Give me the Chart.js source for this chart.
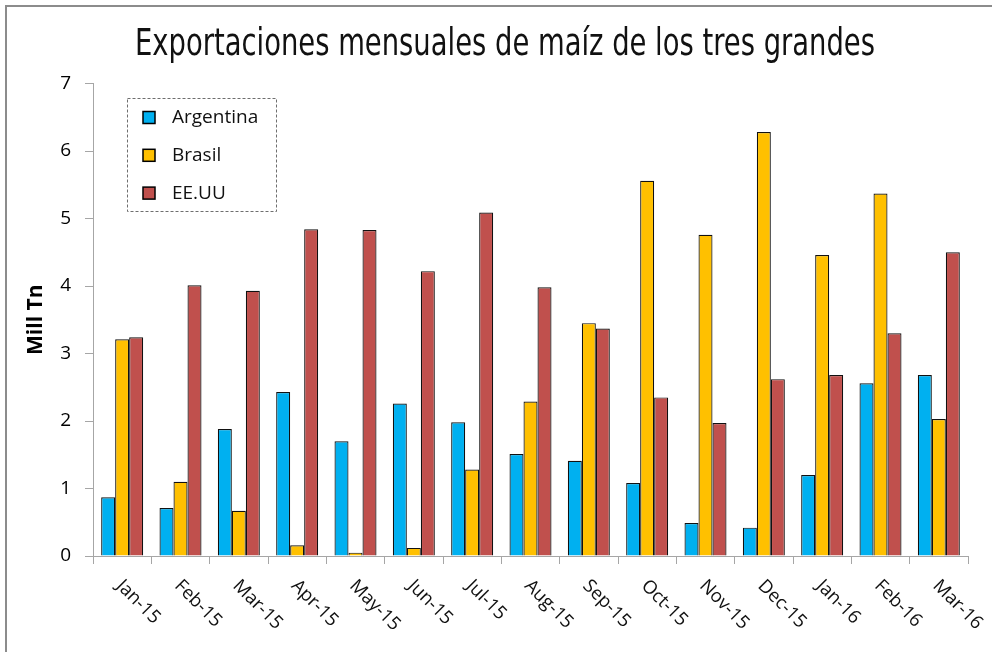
<!DOCTYPE html>
<html>
<head>
<meta charset="utf-8">
<script src="https://cdn.jsdelivr.net/npm/chart.js@4.4.1/dist/chart.umd.min.js"></script>
<style>
html,body{margin:0;padding:0;background:#fff;}
#wrap{width:992px;height:652px;position:relative;}
canvas{display:block;}
</style>
</head>
<body>
<div id="wrap"><canvas id="c" width="992" height="652"></canvas></div>
<script>
const categories = ['Jan-15','Feb-15','Mar-15','Apr-15','May-15','Jun-15','Jul-15','Aug-15','Sep-15','Oct-15','Nov-15','Dec-15','Jan-16','Feb-16','Mar-16'];
const argentina = [0.87, 0.71, 1.88, 2.43, 1.70, 2.26, 1.98, 1.51, 1.41, 1.08, 0.49, 0.42, 1.20, 2.56, 2.68];
const brasil    = [3.21, 1.10, 0.67, 0.16, 0.05, 0.12, 1.28, 2.29, 3.45, 5.56, 4.76, 6.28, 4.46, 5.37, 2.03];
const eeuu      = [3.24, 4.01, 3.93, 4.84, 4.83, 4.22, 5.09, 3.98, 3.37, 2.35, 1.97, 2.62, 2.68, 3.30, 4.50];
const seriesNames = ['Argentina', 'Brasil', 'EE.UU'];
const yTicks = [0, 1, 2, 3, 4, 5, 6, 7];
const titleText = 'Exportaciones mensuales de maíz de los tres grandes';
const yTitle = 'Mill Tn';

const FONT = "'Open Sans', 'Noto Sans', sans-serif";
const TITLE_FONT = "37px 'DejaVu Sans Condensed', 'Liberation Sans Narrow', sans-serif";

const framePlugin = {
  id: 'frame',
  beforeDraw(chart) {
    const ctx = chart.ctx;
    ctx.save();
    ctx.fillStyle = '#fff';
    ctx.fillRect(0, 0, chart.width, chart.height);
    ctx.strokeStyle = '#8c8c8c';
    ctx.lineWidth = 2;
    ctx.beginPath();
    ctx.moveTo(6, chart.height);
    ctx.lineTo(6, 6);
    ctx.lineTo(chart.width, 6);
    ctx.stroke();
    ctx.restore();
  }
};

const titlePlugin = {
  id: 'condTitle',
  afterDraw(chart) {
    const ctx = chart.ctx;
    ctx.save();
    ctx.font = TITLE_FONT;
    ctx.fillStyle = '#111';
    ctx.textAlign = 'center';
    ctx.textBaseline = 'alphabetic';
    const w = ctx.measureText(titleText).width;
    const sx = 740 / w;
    ctx.translate(505, 55);
    ctx.scale(sx, 1);
    ctx.fillText(titleText, 0, 0);
    ctx.restore();
  }
};

const xLabelPlugin = {
  id: 'xlabels',
  afterDraw(chart) {
    const ctx = chart.ctx;
    const xs = chart.scales.x;
    ctx.save();
    ctx.font = '18.5px ' + FONT;
    ctx.fillStyle = '#111';
    ctx.textAlign = 'left';
    ctx.textBaseline = 'middle';
    categories.forEach((lab, i) => {
      const x = xs.getPixelForValue(i);
      ctx.save();
      ctx.translate(x - 3, xs.top + 27);
      ctx.rotate(Math.PI / 4);
      ctx.fillText(lab, 0, 0);
      ctx.restore();
    });
    ctx.restore();
  }
};

const legendPlugin = {
  id: 'boxlegend',
  afterDraw(chart) {
    const ctx = chart.ctx;
    ctx.save();
    ctx.strokeStyle = '#6e6e6e';
    ctx.lineWidth = 1;
    ctx.setLineDash([3, 2]);
    ctx.strokeRect(127.5, 98.5, 149, 113);
    ctx.setLineDash([]);
    ctx.font = '19px ' + FONT;
    ctx.textBaseline = 'middle';
    ctx.textAlign = 'left';
    chart.data.datasets.forEach((ds, i) => {
      const cy = 117.5 + i * 37.8;
      ctx.fillStyle = ds.backgroundColor;
      ctx.fillRect(143, cy - 6, 12, 12);
      ctx.strokeStyle = '#000';
      ctx.lineWidth = 1.5;
      ctx.strokeRect(143, cy - 6, 12, 12);
      ctx.fillStyle = '#111';
      ctx.fillText(ds.label, 172, cy);
    });
    ctx.restore();
  }
};

const mk = (label, data, color) => ({
  label, data,
  backgroundColor: color,
  borderColor: '#111',
  borderWidth: 1.2,
  barPercentage: 1,
  categoryPercentage: 0.72
});

new Chart(document.getElementById('c'), {
  type: 'bar',
  data: {
    labels: categories,
    datasets: [
      mk(seriesNames[0], argentina, '#00B0F0'),
      mk(seriesNames[1], brasil, '#FFC000'),
      mk(seriesNames[2], eeuu, '#C0504D')
    ]
  },
  options: {
    responsive: false,
    devicePixelRatio: 1,
    animation: false,
    layout: { padding: { left: 0, right: 24, top: 83.5, bottom: 0 } },
    plugins: {
      legend: { display: false },
      tooltip: { enabled: false },
      title: { display: false }
    },
    scales: {
      x: {
        offset: true,
        grid: { display: true, drawOnChartArea: false, drawTicks: true, tickLength: 8, offset: true, color: '#a6a6a6' },
        border: { display: true, color: '#a6a6a6', width: 1 },
        ticks: { display: false },
        afterFit(scale) { scale.height = 96; }
      },
      y: {
        min: 0,
        max: 7,
        afterBuildTicks(scale) { scale.ticks = yTicks.map(v => ({ value: v })); },
        grid: { display: true, drawOnChartArea: false, drawTicks: true, tickLength: 8, color: '#a6a6a6' },
        border: { display: true, color: '#a6a6a6', width: 1 },
        ticks: { color: '#000', font: { family: FONT, size: 19 }, padding: 14 },
        title: { display: true, text: yTitle, color: '#000', font: { family: FONT, size: 21, weight: 'bold' }, padding: { top: 23, bottom: 0 } },
        afterFit(scale) { scale.width = 93; }
      }
    }
  },
  plugins: [framePlugin, titlePlugin, xLabelPlugin, legendPlugin]
});
</script>
</body>
</html>
